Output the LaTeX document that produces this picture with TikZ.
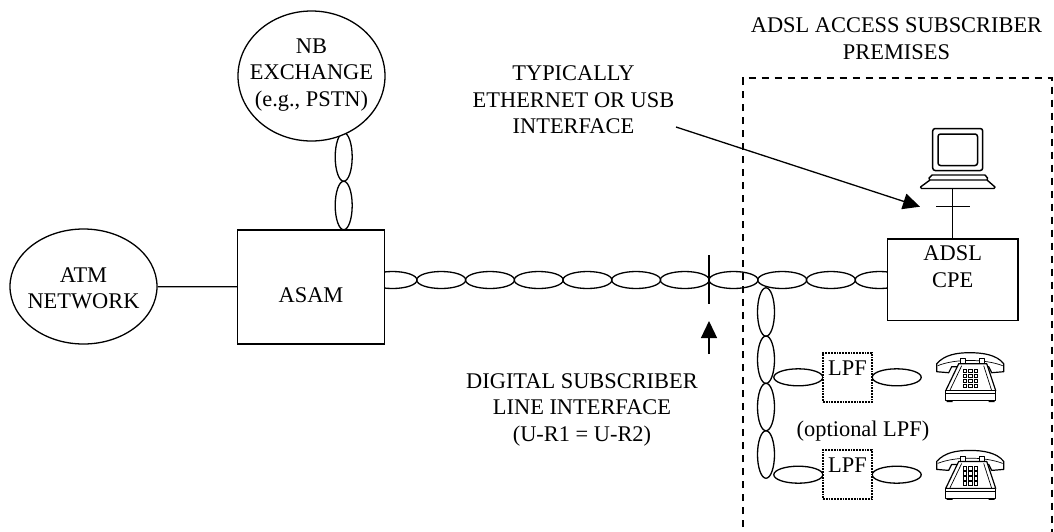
\documentclass[tikz,border=0pt]{standalone}
\usepackage{fontspec}
\setmainfont{Liberation Serif}
\usetikzlibrary{shapes.geometric,arrows.meta}
\tikzset{
  x=1pt,y=-1pt,
  every node/.style={font=\fontsize{22.4}{26.5}\selectfont},
  ln/.style={line width=1.3pt,black},
  twist/.style={draw,ln,ellipse,fill=none,inner sep=0pt,minimum width=49pt,minimum height=17pt},
  twistv/.style={draw,ln,ellipse,fill=none,inner sep=0pt,minimum width=17pt,minimum height=48.5pt},
  box/.style={draw,ln,fill=white,inner sep=0pt},
  cloud/.style={draw,ln,ellipse,fill=white,inner sep=0pt},
  lpf/.style={draw,line width=1.8pt,densely dotted,fill=white,inner sep=0pt,minimum width=49pt,minimum height=49pt},
  lbl/.style={align=center,inner sep=0pt},
  tip/.style={-{Triangle[length=17pt,width=16pt]}},
  thin2/.style={line width=0.7pt},
  pic2/.style={line width=1.2pt,line join=round}
}
\newcommand{\phoneart}{%
  \draw[pic2,fill=white] (0,11) .. controls (8,2) and (20,0) .. (33,0) .. controls (46,0) and (60,2) .. (67,11) -- (67,19) -- (55,20) -- (52,14) -- (15,14) -- (12,20) -- (0,19) -- cycle;
  \draw[thin2] (1,13) .. controls (18,6) and (48,6) .. (66,13);
  \draw[pic2,fill=white] (24,6) rectangle (29,11) (43,6) rectangle (48,11);
  \draw[pic2,fill=white] (22,11) -- (50,11) -- (59,38) -- (9,38) -- cycle;
  \draw[thin2] (25,13) -- (13,38) (47,13) -- (55,38);
  \foreach \kx in {26.5,32,37.5}\foreach \ky in {16.5,21.5,26.5,31.5}
    \draw[line width=0.9pt] (\kx,\ky) rectangle +(3.4,3.4);
  \draw[pic2,fill=white] (9,38) rectangle (59,48);
  \draw[thin2] (9,41) -- (59,41);
  \fill[black] (10,48) rectangle (16,49.5) (52,48) rectangle (58,49.5);
}
\begin{document}
\begin{tikzpicture}
\useasboundingbox (0,0) rectangle (1054,531);
% twisted pairs
\foreach \n/\cx in {a/392.5,b/441.2,c/490,d/538.7,e/587.4,f/636.1,g/684.8,h/733.5,i/782.2,j/830.9,k/879.6}
  \node[twist] (h\n) at (\cx,280) {};
\node[twistv] (v1) at (343.7,157) {};
\node[twistv] (v2) at (343.7,205.5) {};
\node[twistv] (w1) at (766,312) {};
\node[twistv,minimum height=47.5pt] (w2) at (766,359.7) {};
\node[twistv,minimum height=47.5pt] (w3) at (766,407) {};
\node[twistv,minimum height=47.5pt] (w4) at (766,454.5) {};
\node[twist] (l1) at (798.3,377.3) {};
\node[twist] (r1) at (896.7,377.3) {};
\node[twist] (l2) at (798.3,474.7) {};
\node[twist] (r2) at (896.7,474.7) {};
% main nodes
\node[cloud,minimum width=147pt,minimum height=130pt] (nb) at (311.5,76) {};
\node[lbl] at (311.5,75) {NB\\EXCHANGE\\(e.g., PSTN)};
\node[cloud,minimum width=147pt,minimum height=115pt] (atm) at (83.5,286.5) {};
\node[lbl] at (83.5,288.5) {ATM\\NETWORK};
\node[box,minimum width=146.5pt,minimum height=114pt] (asam) at (311,287) {};
\node[lbl] at (311,295) {ASAM};
\node[box,minimum width=130.5pt,minimum height=81.5pt] (cpe) at (952.7,279.7) {};
\node[lbl] at (952.7,266.5) {ADSL\\CPE};
\draw[ln] (atm) -- (asam);
\node[lpf] (f1) at (847.5,377.3) {};
\node[lbl] at (847.5,368) {LPF};
\node[lpf] (f2) at (847.5,474.7) {};
\node[lbl] at (847.5,465) {LPF};
\node[lbl] at (863,431.5) {(optional LPF)};
% interface mark
\coordinate (ut) at (709,255);
\coordinate (ub) at (709,304);
\draw[ln] (ut) -- (ub);
\coordinate (ua1) at (709,354);
\coordinate (ua2) at (709,321);
\draw[ln,tip] (ua1) -- (ua2);
% computer
\begin{scope}[shift={(880,90)}]
  \draw[line width=1.5pt,rounded corners=2.5pt] (52.7,38.5) rectangle (102.7,80.5);
  \draw[line width=1.5pt,rounded corners=2.5pt] (58,44) rectangle (97.5,75.5);
  \draw[pic2,line width=1.4pt] (50,91) -- (49,88) -- (52,85) -- (105,85) -- (107.5,88) -- (107,91);
  \draw[pic2,line width=1.4pt,fill=white] (50,90) -- (107,90) -- (115,97) -- (114,98.5) -- (41.5,98.5) -- (40.5,97) -- cycle;
  \coordinate (cb) at (72.7,98.5);
\end{scope}
\draw[ln] (cb) -- (cpe.north -| cb);
\coordinate (t1) at (936,206.7);
\coordinate (t2) at (970,206.7);
\draw[ln] (t1) -- (t2);
\coordinate (a1) at (676,127);
\coordinate (a2) at (920,206.7);
\draw[ln,tip] (a1) -- (a2);
% phones
\begin{scope}[shift={(936.7,352.7)}]\phoneart\end{scope}
\begin{scope}[shift={(936.7,450.4)}]\phoneart\end{scope}
% premises
\draw[line width=2pt,dash pattern=on 7.5pt off 5.5pt] (742.5,540) -- (742.5,78) -- (1052,78) -- (1052,540);
% labels
\node[lbl] at (896.5,38.5) {ADSL ACCESS SUBSCRIBER\\PREMISES};
\node[lbl] at (573.5,100) {TYPICALLY\\ETHERNET OR USB\\INTERFACE};
\node[lbl] at (582,409.5) {DIGITAL SUBSCRIBER\\LINE INTERFACE\\(U-R1 = U-R2)};
\end{tikzpicture}
\end{document}
